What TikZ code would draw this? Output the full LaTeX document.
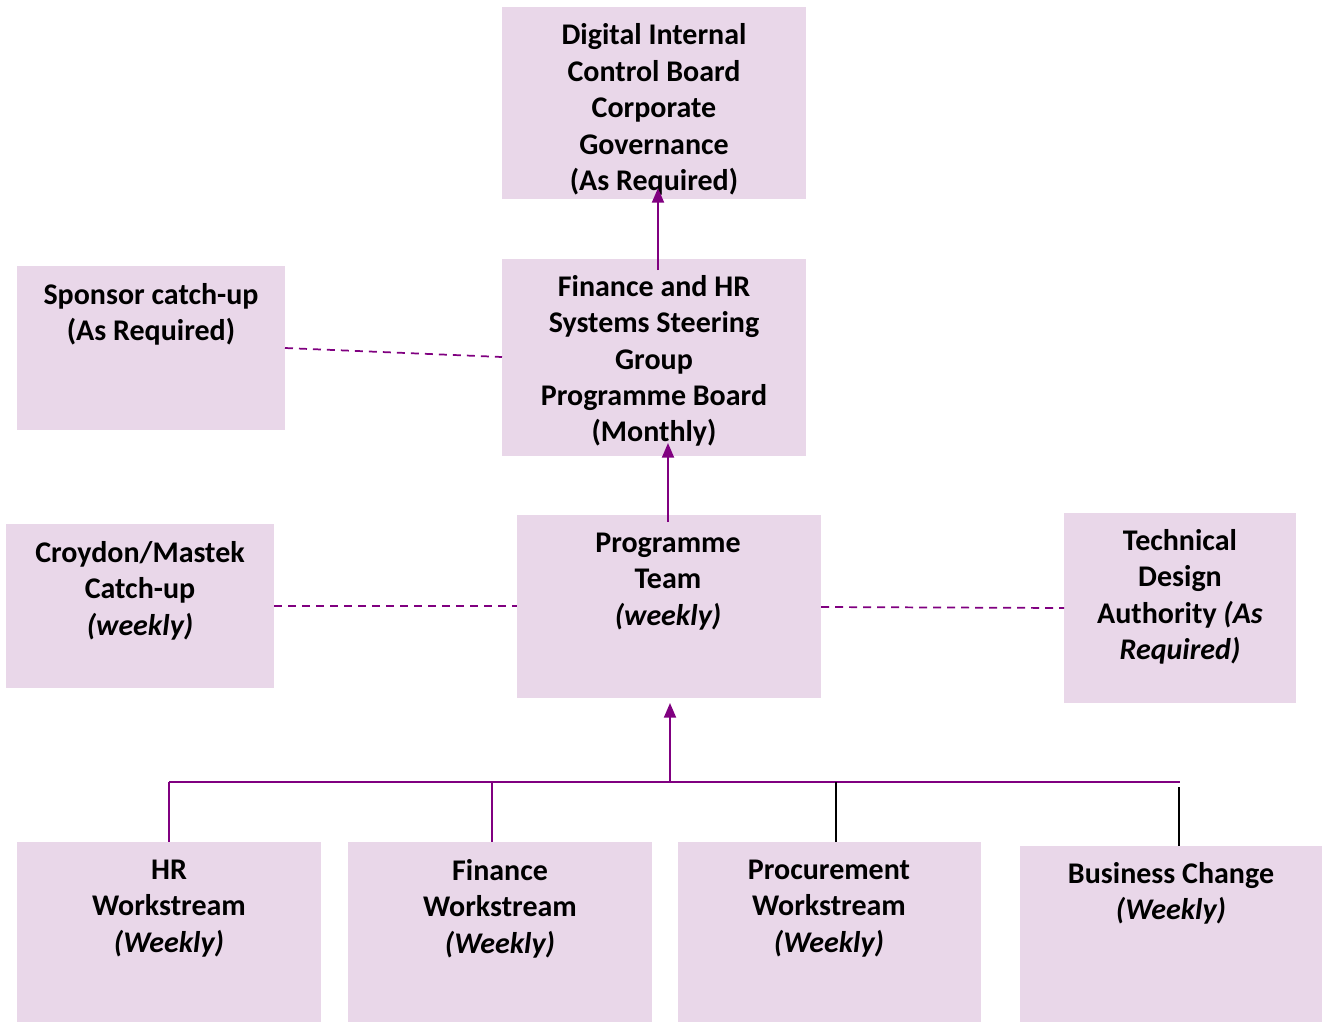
\documentclass[tikz,border=0pt]{standalone}
\usepackage{fontspec}
\setmainfont{Carlito}
\usetikzlibrary{arrows.meta}
\definecolor{boxfill}{HTML}{E9D7E9}
\definecolor{linkpurple}{HTML}{800080}
\begin{document}
\begin{tikzpicture}[x=0.75pt,y=-0.75pt,
  box/.style={rectangle, fill=boxfill, draw=none, inner sep=0pt},
  lbl/.style={align=center, font=\fontsize{22.5}{27.3}\selectfont\bfseries, inner sep=0pt},
  arr/.style={draw=linkpurple, line width=1.4pt, -{Triangle[length=11pt,width=9pt]}},
  dashlink/.style={draw=linkpurple, line width=1.3pt, dash pattern=on 6pt off 4.5pt},
  buslink/.style={draw=linkpurple, line width=1.4pt},
  blackstem/.style={draw=black, line width=1.2pt}]
\path[use as bounding box, fill=white] (0,0) rectangle (1322,1022);

% boxes
\node[box, minimum width=228pt, minimum height=144pt] (dicb) at (654,103) {};
\node[box, minimum width=228pt, minimum height=147.75pt] (fhr) at (654,357.5) {};
\node[box, minimum width=201pt, minimum height=123pt] (spon) at (151,348) {};
\node[box, minimum width=201pt, minimum height=123pt] (croy) at (140,606) {};
\node[box, minimum width=228pt, minimum height=137.25pt] (prog) at (669,606.5) {};
\node[box, minimum width=174pt, minimum height=142.5pt] (tech) at (1180,608) {};
\node[box, minimum width=228pt, minimum height=135pt] (hrws) at (169,932) {};
\node[box, minimum width=228pt, minimum height=135pt] (finws) at (500,932) {};
\node[box, minimum width=227.25pt, minimum height=135pt] (procws) at (829.5,932) {};
\node[box, minimum width=226.5pt, minimum height=132pt] (bcws) at (1171,934) {};

% texts
\node[lbl] (t-dicb) at (654,109.5) {Digital Internal\\Control Board\\Corporate\\Governance\\(As Required)};
\node[lbl] (t-fhr) at (654,361) {Finance and HR\\Systems Steering\\Group\\Programme Board\\(Monthly)};
\node[lbl] (t-spon) at (151,314.5) {Sponsor catch-up\\(As Required)};
\node[lbl] (t-croy) at (140,590.5) {Croydon/Mastek\\Catch-up\\\textit{(weekly)}};
\node[lbl] (t-prog) at (668,581.5) {Programme\\Team\\\textit{(weekly)}};
\node[lbl] (t-tech) at (1180,597) {Technical\\Design\\Authority \textit{(As}\\\textit{Required)}};
\node[lbl] (t-hrws) at (169,908.5) {HR\\Workstream\\\textit{(Weekly)}};
\node[lbl] (t-finws) at (500,908.5) {Finance\\Workstream\\\textit{(Weekly)}};
\node[lbl] (t-procws) at (829,908.5) {Procurement\\Workstream\\\textit{(Weekly)}};
\node[lbl] (t-bcws) at (1171,893.5) {Business Change\\\textit{(Weekly)}};

% dashed links
\coordinate (sponR) at (285,348);
\coordinate (fhrL) at (502,357);
\draw[dashlink] (sponR) -- (fhrL);
\draw[dashlink] (croy.east) -- (prog.west |- croy.east);
\coordinate (progR) at (821,607);
\coordinate (techL) at (1064,608);
\draw[dashlink] (progR) -- (techL);

% bus
\coordinate (busL) at (169,782);
\coordinate (busR) at (1180,782);
\coordinate (busM) at (670,782);
\coordinate (b1) at (492,782);
\coordinate (b2) at (836,782);
\coordinate (b3) at (1179,787);
\draw[buslink] (busL) -- (busR);
\draw[buslink] (busL) -- (hrws.north -| busL);
\draw[buslink] (b1) -- (finws.north -| b1);
\draw[blackstem] (b2) -- (procws.north -| b2);
\draw[blackstem] (b3) -- (bcws.north -| b3);

% arrows
\coordinate (a1s) at (658,270);
\coordinate (a1e) at (658,188);
\draw[arr] (a1s) -- (a1e);
\coordinate (a2s) at (668,522);
\coordinate (a2e) at (668,443);
\draw[arr] (a2s) -- (a2e);
\coordinate (a3e) at (670,703);
\draw[arr] (busM) -- (a3e);
\end{tikzpicture}
\end{document}
